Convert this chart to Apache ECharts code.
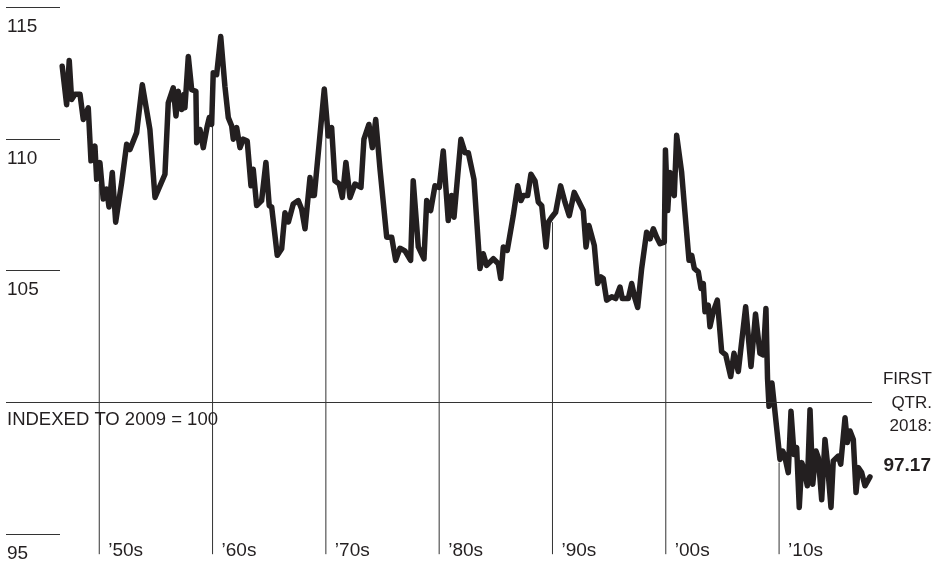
<!DOCTYPE html>
<html><head><meta charset="utf-8">
<script src="https://cdn.jsdelivr.net/npm/echarts@6/dist/echarts.min.js"></script>
<style>html,body{margin:0;padding:0;background:#fff}#c{width:942px;height:563px}</style>
</head><body><div id="c"></div>
<script>
// Quarterly index (vertices), indexed to 2009 = 100
const years = [
1946.73,1947.12,1947.35,1947.56,1947.86,1948.30,1948.59,1949.03,1949.27,1949.62,1949.77,
1950.06,1950.35,1950.65,1950.86,1951.15,1951.45,1951.98,1952.42,1952.71,1953.30,1953.80,
1954.47,1954.92,1955.80,1956.09,1956.53,1956.77,1956.97,1957.27,1957.48,1957.56,1957.86,
1958.16,1958.53,1958.60,1958.89,1959.18,1959.53,1959.71,1959.92,
1960.06,1960.36,1960.72,1961.09,1961.39,1961.69,1961.83,1962.13,1962.42,1962.71,1963.06,
1963.39,1963.59,1963.89,1964.33,1964.71,1965.00,1965.22,1965.71,1966.10,1966.39,1966.70,
1967.12,1967.56,1967.86,1968.16,1968.60,1968.75,1968.98,1969.86,
1970.21,1970.51,1970.80,1971.18,1971.45,1971.77,1972.13,1972.57,1973.10,1973.36,1973.80,
1974.10,1974.40,1974.78,1975.37,1975.81,1976.16,1976.54,1976.98,1977.48,1977.71,1978.16,
1978.66,1978.90,1979.25,1979.63,
1980.01,1980.36,1980.80,1981.10,1981.31,1981.92,1982.28,1982.57,1983.07,1983.60,1983.89,
1984.19,1984.78,1985.22,1985.43,1985.66,1986.01,1986.54,1986.93,1987.22,1987.42,1987.81,
1988.10,1988.46,1988.75,1989.05,1989.43,1989.63,1989.93,
1990.28,1990.72,1991.10,1991.48,1991.92,1992.28,1992.72,1992.96,1993.22,1993.69,1993.99,
1994.28,1994.48,1994.78,1995.23,1995.58,1995.96,1996.16,1996.69,1996.99,1997.28,1997.52,
1997.87,1998.31,1998.61,1998.90,1999.20,1999.49,1999.87,1999.97,
2000.17,2000.37,2000.57,2000.75,2000.96,2001.40,2001.69,2002.05,2002.29,2002.52,2002.87,
2003.11,2003.31,2003.46,2003.75,2003.90,2004.19,2004.55,2004.93,2005.29,2005.73,2006.02,
2006.40,2007.05,2007.52,2007.92,2008.31,2008.61,2008.84,2008.98,2009.11,2009.37,
2010.08,2010.32,2010.46,2010.81,2011.05,2011.32,2011.55,2011.78,2012.00,2012.20,2012.49,
2012.73,2012.97,2013.26,2013.46,2013.76,2014.05,2014.26,2014.58,2014.78,2015.23,2015.44,
2015.82,2016.02,2016.26,2016.55,2016.79,2016.99,2017.29,2017.58,2018.02
];
const values = [
112.76,111.30,112.98,111.50,111.70,111.70,110.74,111.18,109.17,109.73,108.47,
109.10,107.72,108.10,107.42,108.73,106.84,108.35,109.80,109.60,110.24,112.06,
110.36,107.78,108.66,111.37,111.94,110.87,111.81,111.12,111.69,111.18,113.13,
111.87,111.81,109.86,110.36,109.67,110.49,110.81,110.55,
112.51,112.44,113.89,112.00,110.81,110.49,109.99,110.43,109.67,109.99,109.92,
108.22,108.85,107.47,107.66,109.11,107.47,107.41,105.58,105.83,107.20,106.85,
107.53,107.66,107.34,106.59,108.54,107.85,107.85,111.90,
110.11,110.43,108.41,108.29,107.78,109.11,107.78,108.29,108.16,109.99,110.55,
109.67,110.74,108.85,106.27,106.27,105.39,105.85,105.75,105.39,108.41,105.90,
105.45,107.66,107.28,108.22,
108.16,109.54,106.90,107.85,107.03,109.99,109.48,109.48,108.47,105.08,105.64,
105.20,105.45,105.26,104.70,105.90,105.77,107.09,108.22,107.66,107.85,107.85,
108.66,108.41,107.60,107.47,105.90,106.84,107.03,
107.22,108.22,107.60,107.09,107.97,107.66,107.28,105.90,106.71,105.96,104.51,
104.76,104.70,103.88,104.01,103.94,104.38,103.94,103.94,104.51,103.94,103.60,
105.08,106.46,106.21,106.59,106.27,106.02,106.08,109.58,
107.28,108.73,108.03,107.85,110.14,108.73,107.22,105.39,105.58,105.08,104.95,
104.32,104.51,103.44,103.69,102.87,103.44,103.88,101.93,101.80,100.98,101.86,
101.17,103.63,101.36,103.35,101.86,101.80,103.56,100.90,99.85,100.73,
97.83,98.15,98.02,97.33,99.66,98.02,98.28,96.01,97.71,97.46,96.83,
99.72,96.89,98.15,97.90,96.30,98.59,97.71,96.01,97.77,97.96,97.65,
99.41,98.47,98.91,98.59,96.58,97.52,97.33,96.83,97.17
];
const decadeYears = [1950, 1960, 1970, 1980, 1990, 2000, 2010];
const decadeLabels = ['\u201950s', '\u201960s', '\u201970s', '\u201980s', '\u201990s', '\u201900s', '\u201910s'];
const decadeTops = [108.29, 110.49, 111.3, 108.1, 106.84, 106.02, 97.71];
const yTickValues = [95, 105, 110, 115];
const yTickLabels = ['95', '105', '110', '115'];
const baseValue = 100;
const baseLabel = 'INDEXED TO 2009 = 100';
const endNoteLines = ['FIRST', 'QTR.', '2018:'];

const FONT = '"Liberation Sans", Arial, sans-serif';
const INK = '#231f20';
const Y_MIN = 94.233, Y_MAX = 115.276;

const chart = echarts.init(document.getElementById('c'), null, {renderer: 'canvas'});
const lastVal = values[values.length - 1];
chart.setOption({
  animation: false,
  backgroundColor: '#fff',
  grid: {left: 6, right: 70, top: 0, bottom: 6, containLabel: false},
  xAxis: {
    type: 'value', min: 1941.77, max: 2018.2,
    splitLine: {show: false}, axisLine: {show: false}, axisTick: {show: false},
    axisLabel: {
      customValues: decadeYears,
      formatter: v => decadeLabels[decadeYears.indexOf(v)] || '',
      align: 'left', verticalAlign: 'middle', margin: -3, padding: [0, 0, 0, 9],
      color: INK, fontFamily: FONT, fontSize: 19
    }
  },
  yAxis: {
    type: 'value', min: Y_MIN, max: Y_MAX,
    splitLine: {show: false}, axisLine: {show: false},
    axisTick: {show: true, inside: true, length: 54, customValues: yTickValues,
      lineStyle: {color: '#333', width: 1}},
    axisLabel: {
      inside: true, customValues: yTickValues,
      formatter: v => yTickLabels[yTickValues.indexOf(v)] || '',
      margin: 1, align: 'left', verticalAlign: 'top', padding: [10, 0, 0, 0], lineHeight: 19,
      color: INK, fontFamily: FONT, fontSize: 19
    }
  },
  graphic: [
    ...endNoteLines.map((t, i) => ({
      type: 'text', right: 10, top: 371 + i * 23.5, silent: true,
      style: {text: t, fill: INK, font: '17px ' + FONT, textAlign: 'right'}
    })),
    {type: 'text', right: 11, top: 456, silent: true,
      style: {text: lastVal.toFixed(2), fill: INK, font: 'bold 19px ' + FONT, textAlign: 'right'}}
  ],
  series: [
    {
      type: 'custom', silent: true, z: 1, clip: false,
      data: decadeYears.map((y, i) => [y, decadeTops[i]]),
      renderItem: (params, api) => {
        const top = api.coord([api.value(0), api.value(1)]);
        const bot = api.coord([api.value(0), Y_MIN]);
        return {type: 'line', shape: {x1: top[0], y1: top[1], x2: bot[0], y2: bot[1]},
          style: {stroke: '#333', lineWidth: 1}};
      }
    },
    {
      type: 'line', z: 3, silent: true, showSymbol: false, symbol: 'none',
      data: years.map((y, i) => [y, values[i]]),
      lineStyle: {color: INK, width: 5.5, join: 'round', cap: 'round'},
      markLine: {
        silent: true, symbol: 'none', animation: false,
        lineStyle: {color: '#333', width: 1, type: 'solid'},
        label: {show: true, position: 'insideStartBottom', formatter: baseLabel,
          color: INK, fontFamily: FONT, fontSize: 18.5, distance: [1, 8]},
        data: [{yAxis: baseValue}]
      }
    }
  ]
});
</script>
</body></html>
